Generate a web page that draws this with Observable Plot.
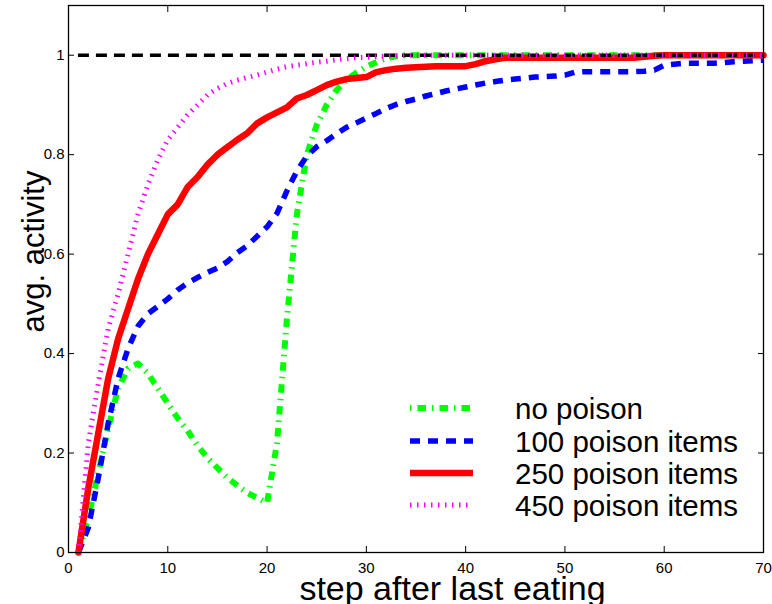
<!DOCTYPE html>
<html><head><meta charset="utf-8">
<script src="https://cdn.jsdelivr.net/npm/d3@7"></script>
<script src="https://cdn.jsdelivr.net/npm/@observablehq/plot@0.6"></script>
<style>
html,body{margin:0;padding:0;background:#fff;}
#wrap{position:relative;width:772px;height:604px;overflow:hidden;font-family:"Liberation Sans",Arial,Helvetica,sans-serif;}
#wrap svg.overlay{position:absolute;left:0;top:0;pointer-events:none;}
</style></head><body><div id="wrap"></div>
<script>
const steps = [1,2,3,4,5,6,7,8,9,10,11,12,13,14,15,16,17,18,19,20,21,22,23,24,25,26,27,28,29,30,31,32,33,34,35,36,37,38,39,40,41,42,43,44,45,46,47,48,49,50,51,52,53,54,55,56,57,58,59,60,61,62,63,64,65,66,67,68,69,70];

const noPoison = [0,0.07,0.16,0.25,0.33,0.37,0.38,0.36,0.33,0.30,0.27,0.245,0.215,0.19,0.17,0.15,0.135,0.12,0.11,0.10,
  0.22,0.47,0.68,0.80,0.86,0.90,0.93,0.95,0.965,0.977,0.986,0.994,0.998,1,1,1,1,1,1,1,
  1,1,1,1,1,1,1,1,1,1,1,1,1,1,1,1,1,1,1,1,1,1,1,1,1,1,1,1,1,1];

const poison100 = [0,0.05,0.15,0.26,0.35,0.41,0.455,0.48,0.495,0.51,0.528,0.542,0.553,0.563,0.572,0.585,0.603,0.617,0.636,0.655,
  0.682,0.727,0.767,0.797,0.816,0.828,0.842,0.855,0.864,0.874,0.883,0.893,0.901,0.907,0.912,0.918,0.923,0.928,0.932,0.936,
  0.940,0.944,0.947,0.950,0.952,0.954,0.956,0.957,0.958,0.960,0.966,0.967,0.967,0.967,0.967,0.967,0.967,0.968,0.970,0.980,
  0.982,0.984,0.984,0.984,0.984,0.985,0.987,0.988,0.989,0.990];

const poison250 = [0,0.13,0.24,0.35,0.43,0.49,0.55,0.60,0.64,0.68,0.70,0.735,0.755,0.78,0.80,0.815,0.83,0.843,0.863,0.875,
  0.885,0.895,0.913,0.92,0.93,0.94,0.947,0.952,0.954,0.956,0.966,0.97,0.973,0.975,0.976,0.977,0.978,0.978,0.978,0.978,
  0.982,0.988,0.992,0.995,0.995,0.995,0.995,0.995,0.995,0.995,0.995,0.995,0.995,0.995,0.995,0.995,0.995,0.997,0.999,1,
  1,1,1,1,1,1,1,1,1,1];

const poison450 = [0,0.22,0.34,0.45,0.52,0.60,0.68,0.74,0.79,0.83,0.855,0.88,0.90,0.92,0.933,0.943,0.95,0.955,0.96,0.966,
  0.972,0.977,0.98,0.983,0.986,0.988,0.991,0.993,0.995,0.996,0.997,0.998,0.999,1,1,1,1,1,1,1,
  1,1,1,1,1,1,1,1,1,1,1,1,1,1,1,1,1,1,1,1,1,1,1,1,1,1,1,1,1,1];

const seriesValues = [noPoison, poison100, poison250, poison450];
const seriesNames = ["no poison", "100 poison items", "250 poison items", "450 poison items"];
const seriesColors = ["#00ff00", "#0000ff", "#ff0000", "#ff00ff"];
const refLevel = [1];
const xTicks = [0, 10, 20, 30, 40, 50, 60, 70];
const yTicks = [0, 0.2, 0.4, 0.6, 0.8, 1];
const yTickLabels = ["0", "0.2", "0.4", "0.6", "0.8", "1"];
const xLabel = "step after last eating";
const yLabel = "avg. activity";

const lineStyles = [
  {strokeWidth: 6, strokeDasharray: "8.5,6,1.5,6", strokeLinecap: "butt"},
  {strokeWidth: 5.5, strokeDasharray: "10,8", strokeLinecap: "butt"},
  {strokeWidth: 6.5, strokeDasharray: null, strokeLinecap: "round"},
  {strokeWidth: 5, strokeDasharray: "1.5,5.5", strokeLinecap: "butt"}
];

const font = '"Liberation Sans", Arial, Helvetica, sans-serif';

function seriesLine(k) {
  const vals = seriesValues[k];
  const st = lineStyles[k];
  const o = {x: (d, i) => steps[i], y: d => d, stroke: seriesColors[k], strokeWidth: st.strokeWidth,
    strokeLinecap: st.strokeLinecap, strokeLinejoin: "round"};
  if (st.strokeDasharray) o.strokeDasharray = st.strokeDasharray;
  return Plot.line(vals, o);
}

const plot = Plot.plot({
  width: 772, height: 604,
  marginLeft: 68, marginRight: 9, marginTop: 5, marginBottom: 52,
  x: {domain: [0, 70]},
  y: {domain: [0, 1.1]},
  style: {fontFamily: font, fontSize: "15px", color: "black", background: "white"},
  marks: [
    Plot.axisX(xTicks, {anchor: "bottom", tickSize: 0, tickPadding: 10, label: null, tickFormat: d => String(d)}),
    Plot.axisX(xTicks, {anchor: "bottom", tickSize: 6, dy: -6, fill: "none", label: null}),
    Plot.axisX(xTicks, {anchor: "top", tickSize: 6, dy: 6, fill: "none", label: null}),
    Plot.axisY(yTicks, {anchor: "left", tickSize: 0, tickPadding: 4, label: null, tickFormat: d => yTickLabels[yTicks.indexOf(d)]}),
    Plot.axisY(yTicks, {anchor: "left", tickSize: 6, dx: 6, fill: "none", label: null}),
    Plot.axisY(yTicks, {anchor: "right", tickSize: 6, dx: -6, fill: "none", label: null}),
    seriesLine(0),
    seriesLine(1),
    seriesLine(2),
    Plot.ruleY(refLevel, {x1: steps[0], x2: steps[steps.length - 1], stroke: "black", strokeWidth: 3.5, strokeDasharray: "11,7"}),
    seriesLine(3),
    Plot.frame({stroke: "black", strokeWidth: 1.3}),
    Plot.text([xLabel], {frameAnchor: "bottom", textAnchor: "middle", lineAnchor: "bottom", dx: 36.5, dy: 47, fontSize: 34, fill: "black"}),
    Plot.text([yLabel], {frameAnchor: "left", textAnchor: "middle", rotate: -90, lineAnchor: "bottom", dx: -25, dy: -27.5, fontSize: 31, fill: "black"})
  ]
});

const wrap = document.getElementById("wrap");
wrap.appendChild(plot);

// legend overlay
const lineY = [408, 441, 473, 505];
const textY = [419, 452, 484, 516];
const svg = d3.select(wrap).append("svg").attr("class", "overlay").attr("width", 772).attr("height", 604);
seriesNames.forEach((name, k) => {
  const st = lineStyles[k];
  svg.append("line").attr("x1", 410).attr("x2", 473).attr("y1", lineY[k]).attr("y2", lineY[k])
    .attr("stroke", seriesColors[k]).attr("stroke-width", st.strokeWidth)
    .attr("stroke-linecap", st.strokeLinecap === "round" ? "butt" : st.strokeLinecap)
    .attr("stroke-dasharray", st.strokeDasharray ? st.strokeDasharray : null)
    .attr("stroke-dashoffset", k === 0 ? 14.5 : null);
  svg.append("text").attr("x", 515).attr("y", textY[k]).attr("font-size", 29.5)
    .attr("font-family", font).attr("fill", "black").text(name);
});
</script>
</body></html>
